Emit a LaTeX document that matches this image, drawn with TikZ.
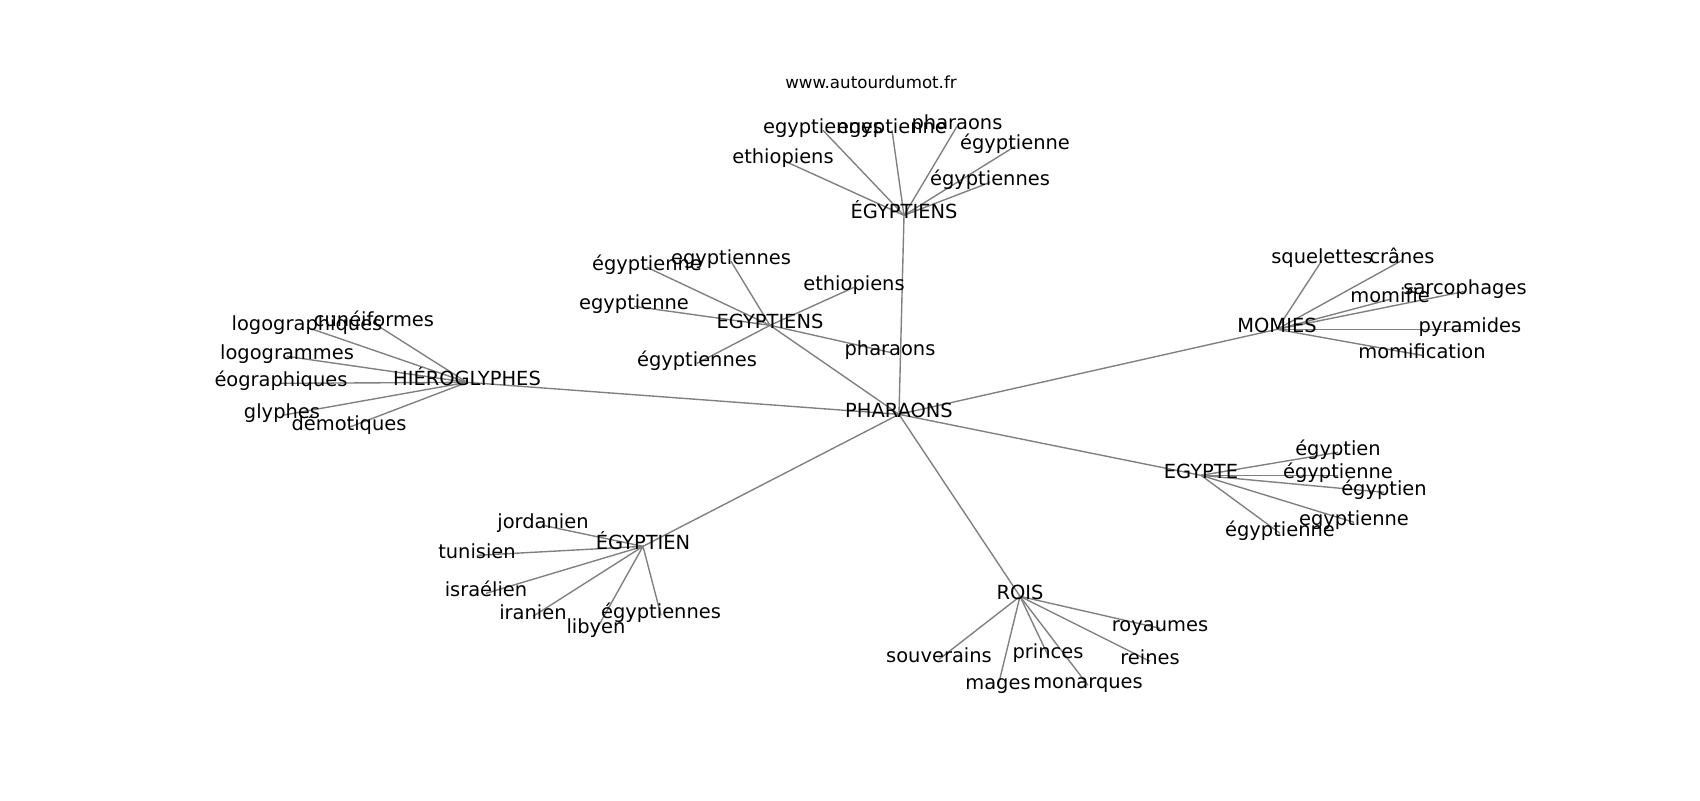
\documentclass[tikz,border=0pt]{standalone}
\usepackage{fontspec}
\setmainfont{DejaVu Sans}
\usetikzlibrary{backgrounds}
\tikzset{
  lbl/.style={inner sep=0pt, outer sep=0pt, text height=0.76em, text depth=0.24em, anchor=center, font=\fontsize{14}{16}\selectfont},
  ttl/.style={inner sep=0pt, anchor=center, font=\fontsize{12}{14}\selectfont},
  edge/.style={draw=black!50, line width=1pt}
}
\begin{document}
\begin{tikzpicture}[x=0.72pt,y=-0.72pt]
\useasboundingbox (0,0) rectangle (1700,800);
\node[ttl] (title) at (871,82) {www.autourdumot.fr};
\begin{scope}[yshift=-2.4pt]
% hubs
\node[lbl] (P) at (899,411) {PHARAONS};
\node[lbl] (E1) at (904,212) {ÉGYPTIENS};
\node[lbl] (E2) at (770,322) {EGYPTIENS};
\node[lbl] (H) at (467,379) {HIÉROGLYPHES};
\node[lbl] (M) at (1277,326) {MOMIES};
\node[lbl] (EG) at (1201,472) {EGYPTE};
\node[lbl] (E3) at (643,543) {ÉGYPTIEN};
\node[lbl] (R) at (1020,593) {ROIS};
% E1 leaves
\node[lbl] (a1) at (783,157) {ethiopiens};
\node[lbl] (a2) at (823,127) {egyptiennes};
\node[lbl] (a3) at (892,127) {egyptienne};
\node[lbl] (a4) at (957,123) {pharaons};
\node[lbl] (a5) at (1015,143) {égyptienne};
\node[lbl] (a6) at (990,179) {égyptiennes};
% E2 leaves
\node[lbl] (b1) at (647,264) {égyptienne};
\node[lbl] (b2) at (731,258) {egyptiennes};
\node[lbl] (b3) at (854,284) {ethiopiens};
\node[lbl] (b4) at (634,303) {egyptienne};
\node[lbl] (b5) at (697,360) {égyptiennes};
\node[lbl] (b6) at (890,349) {pharaons};
% H leaves
\node[lbl] (c1) at (374,320) {cunéiformes};
\node[lbl] (c2) at (307,324) {logographiques};
\node[lbl] (c3) at (287,353) {logogrammes};
\node[lbl] (c4) at (281,380) {éographiques};
\node[lbl] (c5) at (282,412) {glyphes};
\node[lbl] (c6) at (349,424) {démotiques};
% M leaves
\node[lbl] (d1) at (1322,257) {squelettes};
\node[lbl] (d2) at (1402,257) {crânes};
\node[lbl] (d3) at (1465,288) {sarcophages};
\node[lbl] (d4) at (1390,296) {momifie};
\node[lbl] (d5) at (1470,326) {pyramides};
\node[lbl] (d6) at (1422,352) {momification};
% EG leaves
\node[lbl] (e1) at (1338,449) {égyptien};
\node[lbl] (e2) at (1338,472) {égyptienne};
\node[lbl] (e3) at (1384,489) {égyptien};
\node[lbl] (e4) at (1354,519) {egyptienne};
\node[lbl] (e5) at (1280,530) {égyptienne};
% E3 leaves
\node[lbl] (f1) at (543,522) {jordanien};
\node[lbl] (f2) at (477,552) {tunisien};
\node[lbl] (f3) at (486,590) {israélien};
\node[lbl] (f4) at (533,613) {iranien};
\node[lbl] (f5) at (596,627) {libyen};
\node[lbl] (f6) at (661,612) {égyptiennes};
% R leaves
\node[lbl] (g1) at (1160,625) {royaumes};
\node[lbl] (g2) at (939,656) {souverains};
\node[lbl] (g3) at (1048,652) {princes};
\node[lbl] (g4) at (1150,658) {reines};
\node[lbl] (g5) at (998,683) {mages};
\node[lbl] (g6) at (1088,682) {monarques};
\end{scope}
\begin{pgfonlayer}{background}
\foreach \h in {E1,E2,H,M,EG,E3,R} \draw[edge] (P.center) -- (\h.center);
\foreach \l in {a1,a2,a3,a4,a5,a6} \draw[edge] (E1.center) -- (\l.center);
\foreach \l in {b1,b2,b3,b4,b5,b6} \draw[edge] (E2.center) -- (\l.center);
\foreach \l in {c1,c2,c3,c4,c5,c6} \draw[edge] (H.center) -- (\l.center);
\foreach \l in {d1,d2,d3,d4,d5,d6} \draw[edge] (M.center) -- (\l.center);
\foreach \l in {e1,e2,e3,e4,e5} \draw[edge] (EG.center) -- (\l.center);
\foreach \l in {f1,f2,f3,f4,f5,f6} \draw[edge] (E3.center) -- (\l.center);
\foreach \l in {g1,g2,g3,g4,g5,g6} \draw[edge] (R.center) -- (\l.center);
\end{pgfonlayer}
\end{tikzpicture}
\end{document}
